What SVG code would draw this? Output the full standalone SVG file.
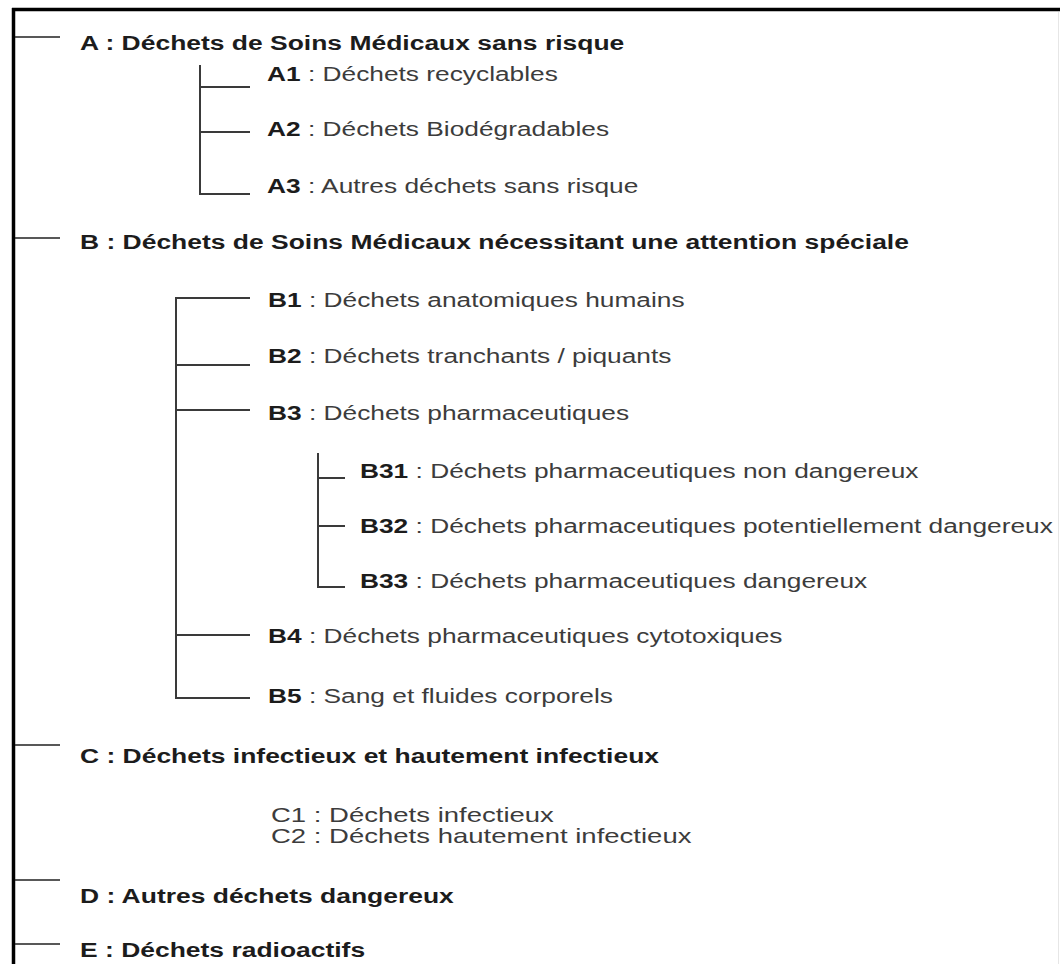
<svg xmlns="http://www.w3.org/2000/svg" width="1060" height="964" viewBox="0 0 1060 964">
<style>
text{font-family:"Liberation Sans",Arial,sans-serif;}
.h{font-size:21px;font-weight:bold;fill:#1c1c1c;}
.s{font-size:20px;fill:#3c3c3c;}
.c{font-size:21px;fill:#3c3c3c;}
.s tspan.b{font-weight:bold;fill:#1c1c1c;}
.frame{stroke:#000;stroke-width:3.5;fill:none;}
.top{stroke:#222;stroke-width:1.6;fill:none;}
.tree{stroke:#3a3a3a;stroke-width:2;fill:none;}
</style>
<rect width="1060" height="964" fill="#fff"/>
<g id="frame">
<line class="frame" x1="12" y1="9.5" x2="1060" y2="9.5"/>
<line class="frame" x1="13.5" y1="8" x2="13.5" y2="964"/>
<line x1="1058.5" y1="12" x2="1058.5" y2="964" stroke="#e6e6e6" stroke-width="1"/>
</g>
<g id="connectors">
<path class="top" d="M15 37H60M15 238H60M15 745H60M15 880H60M15 944H60"/>
<path class="tree" d="M200 65V194H250M200 87H250M200 132H250"/>
<path class="tree" d="M250 298H176V698H250M176 365H250M176 410H250M176 635H250"/>
<path class="tree" d="M318 453V587H345M318 478H345M318 526H345"/>
</g>
<g id="A"><text class="h" transform="translate(80,50) scale(1.26,1)">A : Déchets de Soins Médicaux sans risque</text></g>
<g id="A1"><text class="s" transform="translate(267,80.5) scale(1.315,1)"><tspan class="b">A1</tspan> : Déchets recyclables</text></g>
<g id="A2"><text class="s" transform="translate(267,136) scale(1.315,1)"><tspan class="b">A2</tspan> : Déchets Biodégradables</text></g>
<g id="A3"><text class="s" transform="translate(267,192.5) scale(1.315,1)"><tspan class="b">A3</tspan> : Autres déchets sans risque</text></g>
<g id="B"><text class="h" transform="translate(80,249) scale(1.26,1)">B : Déchets de Soins Médicaux nécessitant une attention spéciale</text></g>
<g id="B1"><text class="s" transform="translate(268,307) scale(1.315,1)"><tspan class="b">B1</tspan> : Déchets anatomiques humains</text></g>
<g id="B2"><text class="s" transform="translate(268,363) scale(1.315,1)"><tspan class="b">B2</tspan> : Déchets tranchants / piquants</text></g>
<g id="B3"><text class="s" transform="translate(268,420) scale(1.315,1)"><tspan class="b">B3</tspan> : Déchets pharmaceutiques</text></g>
<g id="B31"><text class="s" transform="translate(360,478) scale(1.315,1)"><tspan class="b">B31</tspan> : Déchets pharmaceutiques non dangereux</text></g>
<g id="B32"><text class="s" transform="translate(360,533) scale(1.315,1)"><tspan class="b">B32</tspan> : Déchets pharmaceutiques potentiellement dangereux</text></g>
<g id="B33"><text class="s" transform="translate(360,588) scale(1.315,1)"><tspan class="b">B33</tspan> : Déchets pharmaceutiques dangereux</text></g>
<g id="B4"><text class="s" transform="translate(268,643) scale(1.315,1)"><tspan class="b">B4</tspan> : Déchets pharmaceutiques cytotoxiques</text></g>
<g id="B5"><text class="s" transform="translate(268,703) scale(1.315,1)"><tspan class="b">B5</tspan> : Sang et fluides corporels</text></g>
<g id="C"><text class="h" transform="translate(80,763) scale(1.26,1)">C : Déchets infectieux et hautement infectieux</text></g>
<g id="C1"><text class="c" transform="translate(271,822) scale(1.31,1)">C1 : Déchets infectieux</text></g>
<g id="C2"><text class="c" transform="translate(271,843) scale(1.31,1)">C2 : Déchets hautement infectieux</text></g>
<g id="D"><text class="h" transform="translate(80,903) scale(1.26,1)">D : Autres déchets dangereux</text></g>
<g id="E"><text class="h" transform="translate(80,957) scale(1.26,1)">E : Déchets radioactifs</text></g>
</svg>
